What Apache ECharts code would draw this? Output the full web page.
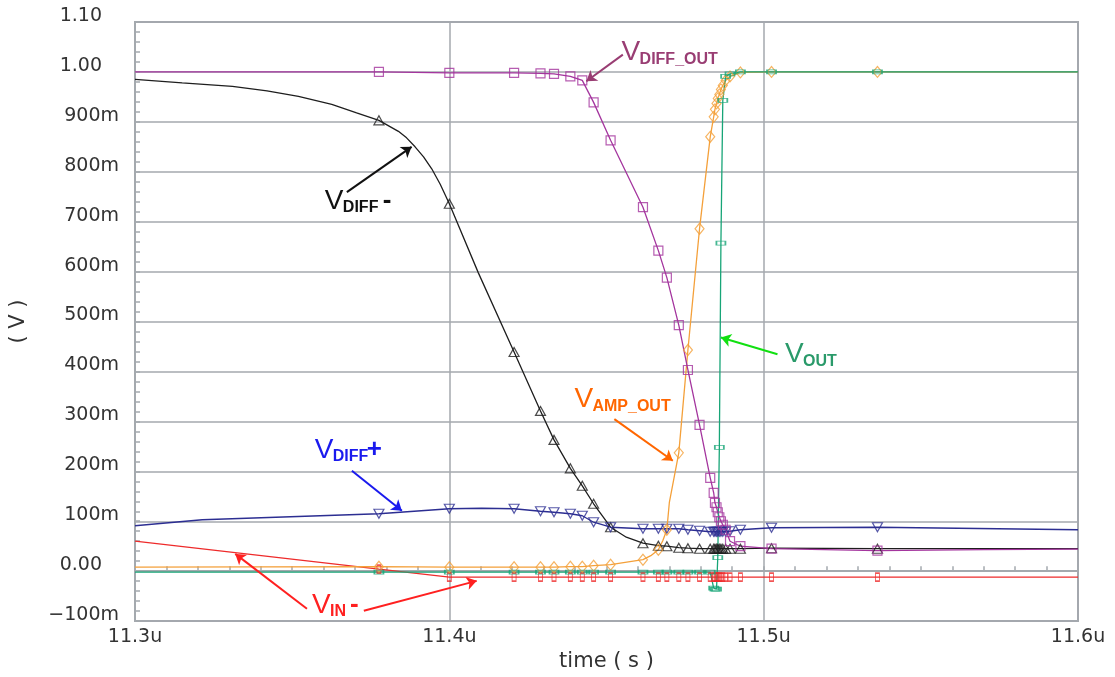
<!DOCTYPE html>
<html><head><meta charset="utf-8">
<script src="https://cdn.jsdelivr.net/npm/echarts@6/dist/echarts.min.js"></script>
<style>html,body{margin:0;padding:0;background:#fff}#c{width:1115px;height:677px}</style>
</head><body><div id="c"></div>
<script>
// ---- data (time in µs, voltage in V) ----
const markTimes = [11.3776, 11.4000, 11.4206, 11.4290, 11.4333, 11.4385, 11.4423, 11.4459, 11.4513, 11.4616, 11.4665, 11.4692, 11.4730, 11.4759, 11.4796, 11.4830, 11.4841, 11.4845, 11.4850, 11.4854, 11.4859, 11.4864, 11.4870, 11.4879, 11.4893, 11.4926, 11.5025, 11.5362];

const vdiffOutMarks = [1.000, 0.998, 0.998, 0.997, 0.996, 0.991, 0.983, 0.939, 0.863, 0.729, 0.642, 0.588, 0.493, 0.403, 0.293, 0.187, 0.157, 0.137, 0.128, 0.118, 0.108, 0.100, 0.093, 0.083, 0.060, 0.050, 0.045, 0.041];
const vdiffOutCurve = [[11.3, 1.0], [11.36, 1.0], [11.57, 0.043], [11.6, 0.044]];

const vdiffMinusMarks = [0.903, 0.736, 0.439, 0.321, 0.263, 0.206, 0.171, 0.135, 0.088, 0.056, 0.051, 0.050, 0.047, 0.046, 0.045, 0.045, 0.045, 0.045, 0.045, 0.045, 0.045, 0.045, 0.045, 0.045, 0.045, 0.045, 0.046, 0.045];
const vdiffMinusCurve = [[11.3, 0.985], [11.315, 0.978], [11.331, 0.971], [11.342, 0.962], [11.352, 0.951], [11.3626, 0.935], [11.3705, 0.918], [11.3838, 0.881], [11.3864, 0.868], [11.3891, 0.850], [11.3918, 0.830], [11.3944, 0.806], [11.3971, 0.775], [11.4092, 0.598], [11.4563, 0.068], [11.6, 0.045]];

const vdiffPlusMarks = [0.115, 0.125, 0.125, 0.120, 0.118, 0.115, 0.111, 0.098, 0.088, 0.085, 0.085, 0.085, 0.085, 0.083, 0.081, 0.079, 0.079, 0.079, 0.079, 0.079, 0.079, 0.079, 0.079, 0.079, 0.080, 0.083, 0.087, 0.088];
const vdiffPlusCurve = [[11.3, 0.091], [11.3214, 0.103], [11.4103, 0.126], [11.6, 0.083]];

const vampOutMarks = [0.009, 0.008, 0.008, 0.008, 0.008, 0.009, 0.009, 0.011, 0.013, 0.023, 0.043, 0.083, 0.237, 0.443, 0.686, 0.870, 0.910, 0.925, 0.937, 0.947, 0.955, 0.965, 0.973, 0.983, 0.991, 0.999, 1.000, 1.000];
const vampOutCurve = [[11.3, 0.008], [11.4641, 0.031], [11.4679, 0.061], [11.4700, 0.138], [11.6, 1.0]];

const vinMinusMarks = [0.004, -0.012, -0.012, -0.012, -0.012, -0.012, -0.012, -0.012, -0.012, -0.012, -0.012, -0.012, -0.012, -0.012, -0.012, -0.012, -0.012, -0.012, -0.012, -0.012, -0.012, -0.012, -0.012, -0.012, -0.012, -0.012, -0.012, -0.012];
const vinMinusCurve = [[11.3, 0.060], [11.6, -0.012]];

const voutMarks = [-0.002, -0.002, -0.002, -0.002, -0.002, -0.002, -0.002, -0.002, -0.002, -0.002, -0.002, -0.002, -0.002, -0.002, -0.002, -0.002, -0.034, -0.036, -0.036, 0.027, 0.248, 0.657, 0.943, 0.991, 0.996, 1.000, 1.000, 1.000];
const voutCurve = [[11.3, -0.002], [11.6, 1.0]];

const xTicks = [11.3, 11.4, 11.5, 11.6];

// annotation anchors (data coords): label V centre-left, arrow from -> to
const annotations = [
  {sub: 'DIFF_OUT', suffix: '', at: [11.4548, 1.0396], arrows: [[[11.4552, 1.0346], [11.4436, 0.9812]]], text: '#993d73', arrow: '#993d73', sdx: 0},
  {sub: 'DIFF', suffix: '-', at: [11.3604, 0.7416], arrows: [[[11.3674, 0.7592], [11.3880, 0.850]]], text: '#111111', arrow: '#111111', sdx: 58},
  {sub: 'DIFF', suffix: '+', at: [11.3572, 0.2426], arrows: [[[11.3690, 0.2012], [11.3849, 0.1212]]], text: '#1a1aee', arrow: '#1a1aee', sdx: 52},
  {sub: 'AMP_OUT', suffix: '', at: [11.4398, 0.3446], arrows: [[[11.4525, 0.3046], [11.4711, 0.2212]]], text: '#ff6600', arrow: '#ff6600', sdx: 0},
  {sub: 'OUT', suffix: '', at: [11.5068, 0.4346], arrows: [[[11.5044, 0.4346], [11.4864, 0.468]]], text: '#2a9a6a', arrow: '#11e011', sdx: 0},
  {sub: 'IN', suffix: '-', at: [11.3563, -0.0674], arrows: [[[11.3547, -0.0754], [11.3319, 0.0346]], [[11.3728, -0.0794], [11.4087, -0.0194]]], text: '#ff2020', arrow: '#ff2020', sdx: 38}
];

// ---- styles ----
const signals = [
  {name: 'VIN-', curve: vinMinusCurve, vals: vinMinusMarks, color: '#ee2b2b', symbol: 'rect', size: [4, 8], rot: 0},
  {name: 'VDIFF-', curve: vdiffMinusCurve, vals: vdiffMinusMarks, color: '#1e1e1e', symbol: 'triangle', size: [10, 9], rot: 0},
  {name: 'VDIFF+', curve: vdiffPlusCurve, vals: vdiffPlusMarks, color: '#2c2e92', symbol: 'triangle', size: [10, 9], rot: 180},
  {name: 'VAMP_OUT', curve: vampOutCurve, vals: vampOutMarks, color: '#f4a03a', symbol: 'diamond', size: [9, 11], rot: 0},
  {name: 'VDIFF_OUT', curve: vdiffOutCurve, vals: vdiffOutMarks, color: '#a4359e', symbol: 'rect', size: [9, 9], rot: 0},
  {name: 'VOUT', curve: voutCurve, vals: voutMarks, color: '#17a577', symbol: 'rect', size: [9, 4], rot: 0}
];

const GRID = '#a4a9ae';
const series = [];
signals.forEach((s, i) => {
  const marks = markTimes.map((t, k) => [t, s.vals[k]]);
  const pts = s.curve.concat(marks).sort((a, b) => a[0] - b[0]);
  series.push({
    type: 'line', name: s.name, data: pts, showSymbol: false, symbol: 'none',
    smooth: false, silent: true, z: 2 + i * 0.01,
    lineStyle: {color: s.color, width: 1.3}
  });
  series.push({
    type: 'scatter', name: s.name + ' marks', data: marks, symbol: s.symbol,
    symbolSize: s.size, symbolRotate: s.rot, silent: true, z: 3 + i * 0.01,
    itemStyle: {color: 'rgba(255,255,255,0)', borderColor: s.color, borderWidth: 1.2}
  });
});
const arrowData = [];
annotations.forEach(a => a.arrows.forEach(ar => arrowData.push({coords: ar, lineStyle: {color: a.arrow}})));
series.push({
  type: 'lines', coordinateSystem: 'cartesian2d', data: arrowData, silent: true, z: 5,
  symbol: ['none', 'arrow'], symbolSize: 10, lineStyle: {width: 2, opacity: 1}
});

function yFmt(val) {
  const v = Math.round(val * 1000) / 1000;
  if (v === 0) return '0.00{sp|}';
  if (Math.abs(v) >= 1) return v.toFixed(2) + '{sp|}';
  const m = Math.round(v * 1000);
  return (m < 0 ? '\u2212' : '') + Math.abs(m) + 'm';
}

const chart = echarts.init(document.getElementById('c'), null, {renderer: 'canvas'});
const option = {
  animation: false,
  backgroundColor: '#ffffff',
  grid: {left: 133, right: 37, top: 22, bottom: 55, show: true, borderColor: GRID, borderWidth: 2},
  xAxis: {
    type: 'value', min: xTicks[0], max: xTicks[xTicks.length - 1], interval: 0.1,
    name: 'time ( s )', nameLocation: 'middle', nameGap: 27,
    nameTextStyle: {fontFamily: 'DejaVu Sans', fontSize: 21, color: '#333'},
    axisLine: {show: true, lineStyle: {color: GRID, width: 2}},
    axisTick: {show: true, inside: true, length: 5, lineStyle: {color: GRID, width: 1.5}},
    minorTick: {show: true, splitNumber: 10, length: 5, lineStyle: {color: GRID, width: 1.5}},
    splitLine: {show: true, lineStyle: {color: GRID, width: 1.5}},
    axisLabel: {formatter: v => v.toFixed(1) + 'u', fontFamily: 'DejaVu Sans', fontSize: 19, color: '#333', margin: 6, showMinLabel: true, showMaxLabel: true}
  },
  yAxis: {
    type: 'value', min: -0.1, max: 1.1, interval: 0.1,
    name: '( V )', nameLocation: 'middle', nameGap: 106,
    nameTextStyle: {fontFamily: 'DejaVu Sans', fontSize: 21, color: '#333'},
    axisLine: {show: true, lineStyle: {color: GRID, width: 2}},
    axisTick: {show: true, inside: true, length: 5, lineStyle: {color: GRID, width: 1.5}},
    minorTick: {show: true, splitNumber: 5, length: 5, lineStyle: {color: GRID, width: 1.5}},
    splitLine: {show: true, lineStyle: {color: GRID, width: 1.5}},
    axisLabel: {formatter: yFmt, align: 'right', verticalAlign: 'middle', padding: [0, 0, 12, 0],
      fontFamily: 'DejaVu Sans', fontSize: 19, color: '#333', margin: 16,
      rich: {sp: {width: 17}}, showMinLabel: true, showMaxLabel: true}
  },
  series: series
};
chart.setOption(option);

const graphics = [];
annotations.forEach(a => {
  const p = chart.convertToPixel({gridIndex: 0}, a.at);
  graphics.push({type: 'text', x: p[0], y: p[1], silent: true, z: 10,
    style: {text: 'V', fill: a.text, font: '28px "Liberation Sans"', align: 'left', verticalAlign: 'middle'}});
  graphics.push({type: 'text', x: p[0] + 18, y: p[1] + 7, silent: true, z: 10,
    style: {text: a.sub, fill: a.text, font: 'bold 16px "Liberation Sans"', align: 'left', verticalAlign: 'middle'}});
  if (a.suffix) {
    graphics.push({type: 'text', x: p[0] + a.sdx, y: p[1], silent: true, z: 10,
      style: {text: a.suffix, fill: a.text, font: 'bold 26px "Liberation Sans"', align: 'left', verticalAlign: 'middle'}});
  }
});
chart.setOption({graphic: graphics});
</script></body></html>
